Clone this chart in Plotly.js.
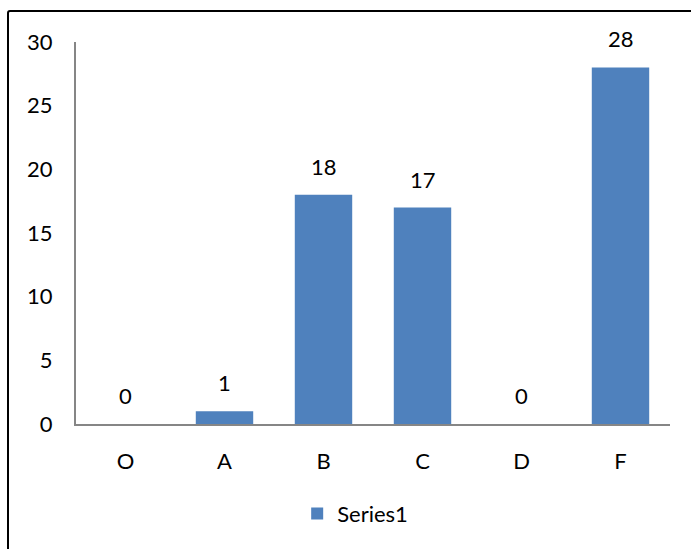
<!DOCTYPE html>
<html>
<head>
<meta charset="utf-8">
<script src="https://cdn.plot.ly/plotly-3.0.1.min.js"></script>
<style>
  html, body { margin: 0; padding: 0; width: 691px; height: 549px; overflow: hidden; background: #fff; }
  #frame { position: absolute; left: 7px; top: 10px; width: 720px; height: 600px; border: 2px solid #000; border-radius: 3px; box-sizing: border-box; pointer-events: none; }
  #chart { position: absolute; left: 0; top: 0; width: 691px; height: 549px; }
</style>
</head>
<body>
<div id="chart"></div>
<div id="frame"></div>
<script>
const categories = ["O", "A", "B", "C", "D", "F"];
const values = [0, 1, 18, 17, 0, 28];
const seriesName = "Series1";
const yTicks = [0, 5, 10, 15, 20, 25, 30];

const font = { family: "Lato, 'Open Sans', sans-serif", size: 22, color: "#000" };

const trace = {
  type: "bar",
  x: categories,
  y: values,
  name: seriesName,
  marker: { color: "#4F81BD" },
  showlegend: true
};

const annotations = categories.map((c, i) => ({
  x: c, y: values[i], xref: "x", yref: "y",
  text: String(values[i]), showarrow: false,
  yanchor: "bottom", yshift: 13, font: font
}));

const layout = {
  width: 691, height: 549,
  margin: { l: 76, r: 21, t: 42, b: 125 },
  paper_bgcolor: "rgba(0,0,0,0)",
  plot_bgcolor: "rgba(0,0,0,0)",
  font: font,
  bargap: 0.42,
  xaxis: {
    type: "category",
    showline: true, linecolor: "#868686", linewidth: 2,
    ticks: "", showgrid: false, zeroline: false,
    tickfont: font, ticklabelstandoff: 17
  },
  yaxis: {
    range: [0, 30], tickvals: yTicks,
    showline: true, linecolor: "#868686", linewidth: 2,
    ticks: "", showgrid: false, zeroline: false,
    tickfont: font, ticklabelstandoff: 17
  },
  legend: {
    orientation: "h", x: 0.47, xanchor: "center",
    y: -0.235, yanchor: "middle", font: font
  },
  annotations: annotations
};

Plotly.newPlot("chart", [trace], layout, { displayModeBar: false, staticPlot: true });
</script>
</body>
</html>
